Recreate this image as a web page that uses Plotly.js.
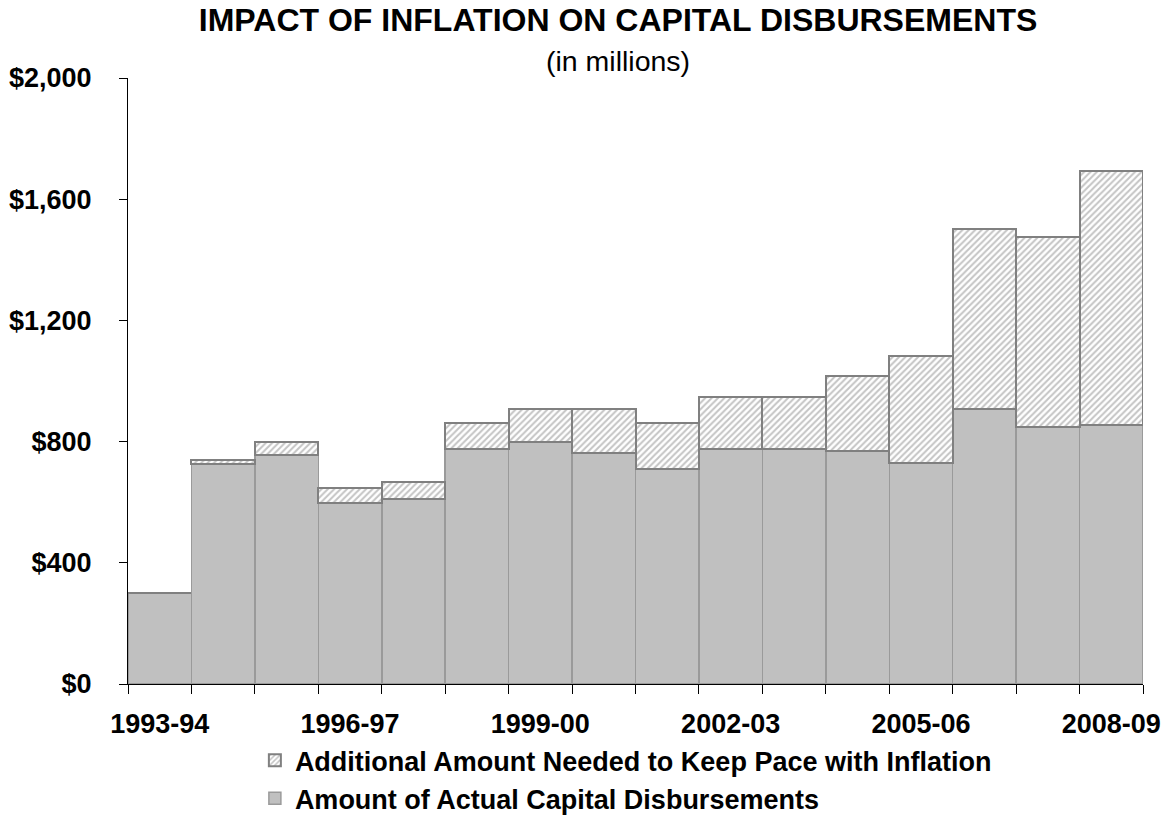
<!DOCTYPE html>
<html>
<head>
<meta charset="utf-8">
<script src="https://cdn.plot.ly/plotly-3.0.1.min.js"></script>
<style>
  html, body { margin: 0; padding: 0; background: #ffffff; }
  #chart { width: 1172px; height: 816px; }
</style>
</head>
<body>
<div id="chart"></div>
<script>
// Fiscal years shown on the category axis
const fiscalYears = [
  '1993-94', '1994-95', '1995-96', '1996-97', '1997-98', '1998-99',
  '1999-00', '2000-01', '2001-02', '2002-03', '2003-04', '2004-05',
  '2005-06', '2006-07', '2007-08', '2008-09'
];

// Capital disbursements actually made ($ millions)
const actualDisbursements = [
  300, 727, 755, 598, 610, 775, 800, 763, 709, 775, 775, 769, 729, 907, 848, 855
];

// Extra amount that would have been needed to keep pace with inflation ($ millions)
const inflationGap = [
  0, 13, 45, 49, 58, 85, 106, 143, 151, 172, 172, 249, 355, 595, 627, 837
];

// Only every third year is labelled
const labelEvery = 3;

const yTickValues = [0, 400, 800, 1200, 1600, 2000];
const yTickLabels = ['$0', '$400', '$800', '$1,200', '$1,600', '$2,000'];

const xPos = fiscalYears.map((_, i) => i);
const labelPos = xPos.filter(i => i % labelEvery === 0);
const labelText = labelPos.map(i => fiscalYears[i]);

const FONT = 'Liberation Sans, Arial, sans-serif';

const actualTrace = {
  type: 'bar',
  name: 'Amount of Actual Capital Disbursements',
  x: xPos,
  y: actualDisbursements,
  marker: {
    color: '#c0c0c0',
    line: { color: '#9a9a9a', width: 1.5 }
  },
  hoverinfo: 'skip'
};

const gapTrace = {
  type: 'bar',
  name: 'Additional Amount Needed to Keep Pace with Inflation',
  x: xPos,
  y: inflationGap,
  marker: {
    color: '#ffffff',
    line: { color: '#808080', width: 2 },
    pattern: {
      shape: '/',
      fgcolor: '#c4c4c4',
      bgcolor: '#ffffff',
      size: 4.5,
      solidity: 0.45
    }
  },
  hoverinfo: 'skip'
};

const layout = {
  width: 1172,
  height: 816,
  paper_bgcolor: '#ffffff',
  plot_bgcolor: '#ffffff',
  margin: { l: 128, r: 29, t: 78, b: 132, autoexpand: false },
  barmode: 'stack',
  bargap: 0,
  showlegend: true,
  font: { family: FONT, color: '#000000' },
  title: {
    text: '<b>IMPACT OF INFLATION ON CAPITAL DISBURSEMENTS</b>',
    font: { family: FONT, size: 32, color: '#000000' },
    xref: 'paper',
    x: 0.4828,
    xanchor: 'center',
    yref: 'container',
    y: 1 - 20 / 816,
    yanchor: 'middle'
  },
  annotations: [{
    text: '(in millions)',
    xref: 'paper',
    yref: 'paper',
    x: 0.4828,
    y: 1 + (78 - 61) / 606,
    xanchor: 'center',
    yanchor: 'middle',
    showarrow: false,
    font: { family: FONT, size: 28.5, color: '#000000' }
  }],
  xaxis: {
    type: 'linear',
    range: [-0.5, fiscalYears.length - 0.5],
    tickmode: 'array',
    tickvals: labelPos,
    ticktext: labelText,
    ticks: '',
    showgrid: false,
    zeroline: false,
    showline: true,
    linecolor: '#000000',
    linewidth: 1,
    ticklabelstandoff: 16,
    tickfont: { family: FONT, size: 27, color: '#000000', weight: 'bold' },
    minor: {
      tickmode: 'linear',
      tick0: -0.5,
      dtick: 1,
      ticks: 'outside',
      ticklen: 9,
      tickwidth: 1,
      tickcolor: '#000000',
      showgrid: false
    },
    fixedrange: true
  },
  yaxis: {
    range: [0, 2000],
    tickmode: 'array',
    tickvals: yTickValues,
    ticktext: yTickLabels,
    ticks: 'outside',
    ticklen: 8,
    tickwidth: 1,
    tickcolor: '#000000',
    showgrid: false,
    zeroline: false,
    showline: true,
    linecolor: '#000000',
    linewidth: 1,
    ticklabelstandoff: 22,
    tickfont: { family: FONT, size: 27, color: '#000000', weight: 'bold' },
    fixedrange: true
  },
  legend: {
    orientation: 'v',
    traceorder: 'reversed',
    x: 0.125,
    xanchor: 'left',
    y: -0.086,
    yanchor: 'top',
    bgcolor: 'rgba(0,0,0,0)',
    font: { family: FONT, size: 27, color: '#000000', weight: 'bold' },
    itemclick: false,
    itemdoubleclick: false
  }
};

Plotly.newPlot('chart', [actualTrace, gapTrace], layout, {
  staticPlot: true,
  displayModeBar: false
});
</script>
</body>
</html>
